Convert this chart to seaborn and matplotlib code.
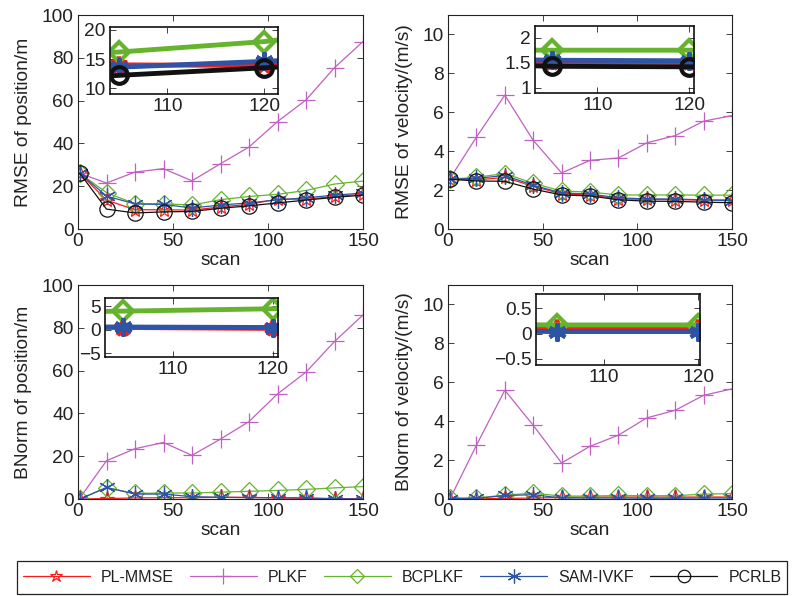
import numpy as np
import pandas as pd
import matplotlib
matplotlib.use("Agg")
import matplotlib.pyplot as plt
from matplotlib.lines import Line2D
from matplotlib.patches import Rectangle
import seaborn as sns

sns.set_theme(style="white")
plt.rcParams['font.family'] = ['Liberation Sans', 'DejaVu Sans']

# ---------------- data ----------------
scan = [1, 15, 30, 45, 60, 75, 90, 105, 120, 135, 150]
methods = ["PL-MMSE", "PLKF", "BCPLKF", "SAM-IVKF", "PCRLB"]

rmse_pos_plmmse = [26, 13.5, 9.0, 9.0, 8.8, 10.3, 11.5, 14.0, 13.9, 15.2, 16.2]
rmse_pos_plkf   = [26, 21.5, 26.6, 28.2, 22.5, 30.5, 38.3, 50.2, 60.3, 75.4, 87.6]
rmse_pos_bcplkf = [26, 17.0, 11.8, 11.8, 11.2, 13.7, 15.2, 16.2, 18.0, 21.0, 22.4]
rmse_pos_samivkf = [26, 15.4, 11.7, 11.5, 9.8, 11.2, 12.2, 13.6, 14.6, 15.8, 16.8]
rmse_pos_pcrlb  = [26, 9.3, 7.5, 8.0, 8.2, 9.7, 10.8, 12.2, 13.5, 14.8, 15.8]

rmse_vel_plmmse = [2.56, 2.52, 2.65, 2.2, 1.8, 1.75, 1.55, 1.52, 1.51, 1.48, 1.5]
rmse_vel_plkf   = [2.59, 4.72, 6.88, 4.56, 2.88, 3.53, 3.65, 4.43, 4.8, 5.54, 5.83]
rmse_vel_bcplkf = [2.56, 2.66, 2.85, 2.35, 1.95, 1.9, 1.75, 1.75, 1.75, 1.74, 1.74]
rmse_vel_samivkf = [2.56, 2.6, 2.75, 2.25, 1.85, 1.8, 1.6, 1.55, 1.54, 1.5, 1.45]
rmse_vel_pcrlb  = [2.56, 2.47, 2.45, 2.05, 1.75, 1.7, 1.5, 1.43, 1.42, 1.38, 1.35]

bn_pos_plmmse = [0, 0.2, 0.5, 0.6, 0.6, 0.8, 0.8, 0.5, 0.3, 0.2, 0.1]
bn_pos_plkf   = [0.5, 17.9, 23.5, 26.4, 20.4, 28.0, 36.2, 49.1, 59.3, 73.6, 86.0]
bn_pos_bcplkf = [0, 5.2, 2.6, 2.8, 2.8, 3.2, 3.6, 4.0, 4.5, 5.2, 5.8]
bn_pos_samivkf = [0, 5.4, 2.3, 2.3, 1.1, 0.8, 0.6, 0.6, 0.5, 0.1, 0.0]

bn_vel_plmmse = [0, 0.02, 0.03, 0.05, 0.08, 0.1, 0.1, 0.1, 0.1, 0.1, 0.1]
bn_vel_plkf   = [0, 2.76, 5.59, 3.79, 1.85, 2.71, 3.28, 4.17, 4.56, 5.33, 5.66]
bn_vel_bcplkf = [0.05, 0.05, 0.2, 0.3, 0.15, 0.15, 0.18, 0.17, 0.17, 0.25, 0.28]
bn_vel_samivkf = [0.02, 0.03, 0.18, 0.22, 0.05, 0.05, 0.05, 0.04, 0.04, 0.05, 0.05]

panel_ylabels = ["RMSE of position/m", "RMSE of velocity/(m/s)",
                 "BNorm of position/m", "BNorm of velocity/(m/s)"]
xlabel = "scan"

# ---------------- styles ----------------
C_RED = "#ff1a1a"
C_MAG = "#c060c0"
C_GRN = "#66b32e"
C_BLU = "#2e55a5"
C_BLK = "#111111"
ASTER = (6, 2, 0)
styles = {
    "PL-MMSE": dict(color=C_RED, marker="*", ms=11),
    "PLKF": dict(color=C_MAG, marker="+", ms=13),
    "BCPLKF": dict(color=C_GRN, marker="D", ms=9),
    "SAM-IVKF": dict(color=C_BLU, marker=ASTER, ms=12),
    "PCRLB": dict(color=C_BLK, marker="o", ms=11),
}

panels = [
    dict(series={"PL-MMSE": rmse_pos_plmmse, "PLKF": rmse_pos_plkf, "BCPLKF": rmse_pos_bcplkf,
                 "SAM-IVKF": rmse_pos_samivkf, "PCRLB": rmse_pos_pcrlb},
         ylim=(0, 100), yticks=[0, 20, 40, 60, 80, 100],
         rect=[78, 15, 285, 214],
         inset=dict(rect=[110, 27, 168, 67], xlim=(104.1, 121.4), ylim=(9, 20.5),
                    yticks=[10, 15, 20], yfmt="{:g}")),
    dict(series={"PL-MMSE": rmse_vel_plmmse, "PLKF": rmse_vel_plkf, "BCPLKF": rmse_vel_bcplkf,
                 "SAM-IVKF": rmse_vel_samivkf, "PCRLB": rmse_vel_pcrlb},
         ylim=(0, 11), yticks=[0, 2, 4, 6, 8, 10],
         rect=[448, 15, 284, 214],
         inset=dict(rect=[535, 26, 159, 67], xlim=(103.2, 120.5), ylim=(0.9, 2.23),
                    yticks=[1, 1.5, 2], yfmt="{:g}")),
    dict(series={"PL-MMSE": bn_pos_plmmse, "PLKF": bn_pos_plkf, "BCPLKF": bn_pos_bcplkf,
                 "SAM-IVKF": bn_pos_samivkf},
         ylim=(0, 100), yticks=[0, 20, 40, 60, 80, 100],
         rect=[78, 285, 285, 214],
         inset=dict(rect=[105, 298, 173, 59], xlim=(103.2, 120.5), ylim=(-5.8, 6.8),
                    yticks=[-5, 0, 5], yfmt="{:g}")),
    dict(series={"PL-MMSE": bn_vel_plmmse, "PLKF": bn_vel_plkf, "BCPLKF": bn_vel_bcplkf,
                 "SAM-IVKF": bn_vel_samivkf},
         ylim=(0, 11), yticks=[0, 2, 4, 6, 8, 10],
         rect=[448, 285, 284, 214],
         inset=dict(rect=[536, 294, 164, 71], xlim=(102.8, 120.2), ylim=(-0.62, 0.78),
                    yticks=[-0.5, 0, 0.5], yfmt="{:g}")),
]

W, H = 798, 596
fig = plt.figure(figsize=(W / 100, H / 100), dpi=100)
TXT = "#222222"
FS = 13.8


def frac(r):
    x, y, w, h = r
    return [x / W, 1 - (y + h) / H, w / W, h / H]


def style_axes(ax, fs):
    for s in ax.spines.values():
        s.set_color("#222222")
        s.set_linewidth(0.8)
    ax.tick_params(direction="in", length=4, width=0.6, colors="#222222",
                   labelcolor=TXT, labelsize=fs, top=True, right=True,
                   bottom=True, left=True, pad=3)


for i, p in enumerate(panels):
    ax = fig.add_axes(frac(p["rect"]))
    for name, vals in p["series"].items():
        st = styles[name]
        df = pd.DataFrame({"scan": scan, "v": vals})
        sns.lineplot(data=df, x="scan", y="v", ax=ax, color=st["color"], lw=0.9,
                     marker=st["marker"], markersize=st["ms"], markerfacecolor="none",
                     markeredgecolor=st["color"], markeredgewidth=0.9, legend=False)
    ax.set_xlim(0, 150)
    ax.set_ylim(*p["ylim"])
    ax.set_xticks([0, 50, 100, 150])
    ax.set_yticks(p["yticks"])
    ax.set_xlabel(xlabel, fontsize=FS, color=TXT, labelpad=1)
    ax.set_ylabel(panel_ylabels[i], fontsize=FS, color=TXT, labelpad=7)
    style_axes(ax, FS)
    ax.set_facecolor("white")

    ins = p["inset"]
    iax = fig.add_axes(frac(ins["rect"]))
    for name, vals in p["series"].items():
        st = styles[name]
        df = pd.DataFrame({"scan": scan, "v": vals})
        fill = st["color"] if name == "SAM-IVKF" else "none"
        sns.lineplot(data=df, x="scan", y="v", ax=iax, color=st["color"], lw=3.5,
                     marker=st["marker"], markersize=st["ms"] + 1, markerfacecolor=fill,
                     markeredgecolor=st["color"], markeredgewidth=3, legend=False)
    iax.set_xlim(*ins["xlim"])
    iax.set_ylim(*ins["ylim"])
    iax.set_xticks([110, 120])
    iax.set_yticks(ins["yticks"])
    iax.set_yticklabels([ins["yfmt"].format(t).replace("-", "\u2212") for t in ins["yticks"]])
    iax.set_xlabel("")
    iax.set_ylabel("")
    style_axes(iax, FS)
    for s in iax.spines.values():
        s.set_linewidth(1.2)
        s.set_color("#111111")
    iax.set_facecolor("white")

# ---------------- legend ----------------
handles = []
for name in methods:
    st = styles[name]
    handles.append(Line2D([0], [0], color=st["color"], lw=0.9, marker=st["marker"],
                          markersize=st["ms"] - 2, markerfacecolor="none",
                          markeredgecolor=st["color"], markeredgewidth=0.9))
lx, ly, lw_, lh = frac([17, 561, 770, 33])
fig.patches.append(Rectangle((lx, ly), lw_, lh, transform=fig.transFigure,
                             facecolor="white", edgecolor="#222222", lw=0.9, zorder=0))
leg = fig.legend(handles, methods, loc="center", ncol=5,
                 bbox_to_anchor=(lx + lw_ / 2, ly + lh / 2), frameon=False,
                 handlelength=4.2, handletextpad=0.7, columnspacing=1.0,
                 borderaxespad=0, prop=dict(size=11.5))
for t in leg.get_texts():
    t.set_color(TXT)

fig.savefig("out.png", dpi=100, facecolor="white")
